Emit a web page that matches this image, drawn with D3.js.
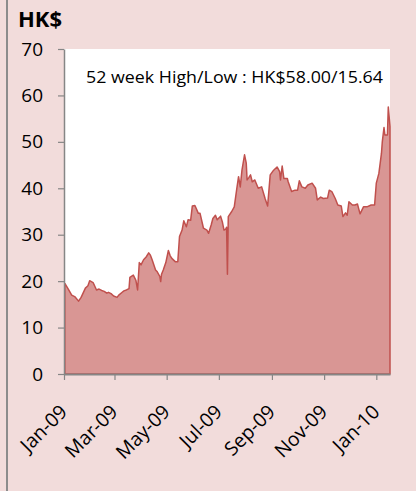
<!DOCTYPE html>
<html>
<head>
<meta charset="utf-8">
<script src="https://cdn.jsdelivr.net/npm/d3@7"></script>
<style>
  html, body { margin: 0; padding: 0; background: #f2dcdb; }
  svg { display: block; }
</style>
</head>
<body>
<svg id="chart" width="416" height="491"></svg>
<script>
// share price, HK$
var dates = [
  "2009-01-02","2009-01-06","2009-01-10","2009-01-14","2009-01-18","2009-01-21","2009-01-26","2009-01-29","2009-01-31",
  "2009-02-04","2009-02-08","2009-02-11","2009-02-14","2009-02-17","2009-02-20","2009-02-22","2009-02-25","2009-02-28",
  "2009-03-04","2009-03-06","2009-03-10","2009-03-12","2009-03-15","2009-03-18","2009-03-19","2009-03-23","2009-03-26","2009-03-28","2009-03-30",
  "2009-04-01","2009-04-04","2009-04-07","2009-04-10","2009-04-12","2009-04-14","2009-04-18","2009-04-20","2009-04-23","2009-04-24","2009-04-25","2009-04-27","2009-04-30",
  "2009-05-03","2009-05-05","2009-05-07","2009-05-11","2009-05-14","2009-05-16","2009-05-19","2009-05-21","2009-05-24","2009-05-26","2009-05-29","2009-05-31",
  "2009-06-03","2009-06-07","2009-06-09","2009-06-13","2009-06-17","2009-06-19","2009-06-22","2009-06-24","2009-06-27","2009-06-29",
  "2009-07-03","2009-07-05","2009-07-07","2009-07-09","2009-07-10","2009-07-11","2009-07-12","2009-07-16","2009-07-19","2009-07-22","2009-07-24","2009-07-26","2009-07-28","2009-07-31",
  "2009-08-02","2009-08-03","2009-08-05","2009-08-07","2009-08-09","2009-08-12","2009-08-16","2009-08-20","2009-08-24","2009-08-27","2009-08-30",
  "2009-09-03","2009-09-07","2009-09-10","2009-09-11","2009-09-13","2009-09-15","2009-09-19","2009-09-20","2009-09-24","2009-09-28",
  "2009-10-01","2009-10-03","2009-10-06","2009-10-10","2009-10-13","2009-10-18","2009-10-22","2009-10-24","2009-10-28","2009-10-31",
  "2009-11-05","2009-11-07","2009-11-10","2009-11-14","2009-11-17","2009-11-21","2009-11-23","2009-11-26","2009-11-28","2009-11-30",
  "2009-12-04","2009-12-07","2009-12-10","2009-12-13","2009-12-17","2009-12-21","2009-12-26","2009-12-30",
  "2010-01-01","2010-01-04","2010-01-07","2010-01-08","2010-01-10","2010-01-11","2010-01-14","2010-01-15","2010-01-17"
];
var prices = [
  19.5,18.3,17.0,16.6,15.7,16.5,18.5,19.0,20.1,
  19.7,18.1,18.3,18.0,17.8,17.4,17.6,17.3,16.8,
  16.5,17.0,17.6,17.9,18.1,18.4,20.8,21.3,20.2,18.1,24.0,
  23.5,24.6,25.2,26.1,25.6,24.6,22.4,22.0,21.0,19.9,21.5,22.4,24.0,
  26.6,25.5,24.9,24.2,24.2,29.6,31.0,33.0,31.7,33.2,33.1,36.2,
  36.3,34.6,34.6,31.4,31.0,30.3,32.1,33.5,34.2,33.2,
  34.0,32.8,31.0,31.2,31.6,21.5,33.9,35.0,36.0,40.0,42.5,40.3,43.9,47.2,
  45.4,41.8,42.3,42.9,41.4,41.8,40.0,40.3,37.8,36.2,42.9,
  43.9,44.6,43.6,41.8,44.8,42.1,42.1,41.4,39.3,39.6,
  39.6,41.6,40.3,40.0,40.7,41.1,40.0,37.5,38.1,37.8,
  37.9,39.6,39.3,37.8,36.4,36.2,33.9,34.7,34.2,37.1,
  36.4,36.4,36.6,34.5,36.0,36.0,36.4,36.4,
  41.1,43.2,47.5,50.0,53.1,51.5,51.5,57.5,53.3
];
var yTicks = [0, 10, 20, 30, 40, 50, 60, 70];
var unitLabel = "HK$";
var note = "52 week High/Low : HK$58.00/15.64";

var parseDate = d3.timeParse("%Y-%m-%d");
var data = dates.map(function(d, i) {
  return { date: parseDate(d), price: prices[i] };
});

var svg = d3.select("#chart"),
  plotLeft = 64, plotRight = 390, plotTop = 49, plotBottom = 374,
  font = "'Open Sans', 'DejaVu Sans', sans-serif";

var x = d3.scaleTime()
  .domain([parseDate("2009-01-01"), data[data.length - 1].date])
  .range([plotLeft, plotRight]);

var y = d3.scaleLinear()
  .domain([0, 70])
  .range([plotBottom, plotTop]);

// outer frame line on the left
svg.append("line")
  .attr("x1", 7).attr("x2", 7)
  .attr("y1", 0).attr("y2", 491)
  .style("stroke", "#8c8c8c")
  .style("stroke-width", 2);

// plot area
svg.append("rect")
  .attr("x", plotLeft).attr("y", plotTop)
  .attr("width", plotRight - plotLeft).attr("height", plotBottom - plotTop)
  .style("fill", "#fff");

var area = d3.area()
  .x(function(d) { return x(d.date); })
  .y0(y(0))
  .y1(function(d) { return y(d.price); });

svg.append("path")
  .datum(data)
  .attr("d", area)
  .style("fill", "#d99694")
  .style("stroke", "#c0504d")
  .style("stroke-width", 1.5)
  .style("stroke-linejoin", "round");

// axes
var yAxis = d3.axisLeft(y)
  .tickValues(yTicks)
  .tickSize(6)
  .tickSizeOuter(0)
  .tickPadding(15);

var xAxis = d3.axisBottom(x)
  .ticks(d3.timeMonth.every(2))
  .tickFormat(d3.timeFormat("%b-%y"))
  .tickSize(6)
  .tickSizeOuter(0);

var gy = svg.append("g")
  .attr("transform", "translate(" + plotLeft + ",0)")
  .call(yAxis);

var gx = svg.append("g")
  .attr("transform", "translate(0," + plotBottom + ")")
  .call(xAxis);

gy.select(".domain").style("stroke", "#868686").style("stroke-width", 1.5);
gx.select(".domain").style("stroke", "#868686").style("stroke-width", 2);
svg.selectAll(".tick line").style("stroke", "#868686").style("stroke-width", 1.2);

gy.selectAll("text")
  .style("font-family", font)
  .style("font-size", "19px")
  .style("fill", "#000");

gx.selectAll("text")
  .style("font-family", font)
  .style("font-size", "19.5px")
  .style("fill", "#000")
  .attr("text-anchor", "end")
  .attr("dy", 0)
  .attr("y", 0)
  .attr("transform", "translate(4,39) rotate(-45)");

// title + note
svg.append("text")
  .attr("x", 18).attr("y", 27)
  .style("font-family", font)
  .style("font-weight", "bold")
  .style("font-size", "22px")
  .text(unitLabel);

svg.append("text")
  .attr("x", 86).attr("y", 82.5)
  .attr("textLength", 297)
  .attr("lengthAdjust", "spacingAndGlyphs")
  .style("font-family", font)
  .style("font-size", "17px")
  .text(note);
</script>
</body>
</html>
